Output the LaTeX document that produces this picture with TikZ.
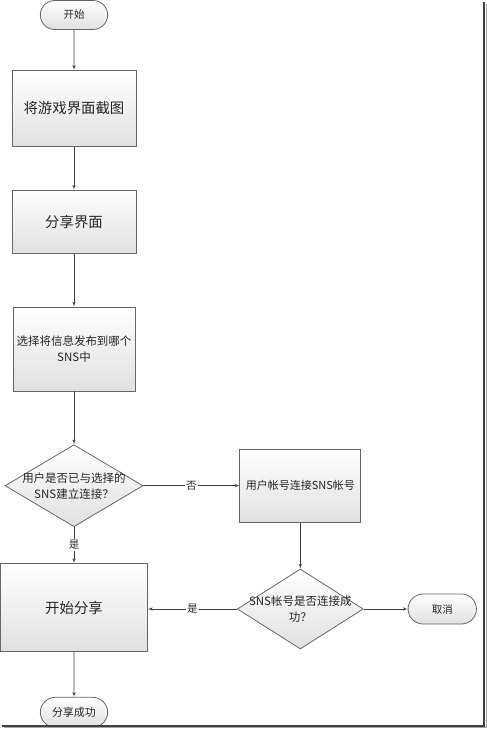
\documentclass[tikz,border=0pt]{standalone}
\usepackage{fontspec}
\setmainfont{Noto Sans CJK SC}
\usetikzlibrary{arrows,shapes,positioning}

\begin{document}
\begin{tikzpicture}[x=1pt,y=-1pt,->,>=latex',semithick,draw=black!75,
                    base/.style={draw=black!60,line width=0.8pt,top color=white,
                                 bottom color=black!12,align=center,text=black!85},
                    box/.style={base,rectangle,font=\fontsize{14.4}{18}\selectfont},
                    term/.style={base,rounded rectangle,minimum height=29pt,
                                 font=\fontsize{10.5}{13}\selectfont},
                    choice/.style={base,diamond},
                    lbl/.style={fill=white,inner sep=1pt,text=black!85,
                                font=\fontsize{10.5}{13}\selectfont},
                    every label/.style={align=center,text=black!85,
                                font=\fontsize{11.5}{16}\selectfont}]

  \useasboundingbox (0,0) rectangle (487,729);

  \node[term,minimum width=74pt]  (start) at (74,15)             {开始};
  \node[box,minimum width=124pt,minimum height=76pt]  (shot)  [below=40pt of start] {将游戏界面截图};
  \node[box,minimum width=124pt,minimum height=63pt]  (share) [below=43pt of shot]  {分享界面};
  \node[box,minimum width=122pt,minimum height=84pt,
        font=\fontsize{11.5}{16}\selectfont]         (pick)  [below=53pt of share] {选择将信息发布到哪个\\SNS中};
  \node[choice,minimum width=138pt,minimum height=82pt,
        label=center:用户是否已与选择的\\SNS建立连接？]   (ask)   [below=53pt of pick]  {};
  \node[box,minimum width=147pt,minimum height=88pt]  (go)    [below=36pt of ask]   {开始分享};
  \node[term,minimum width=74pt,minimum height=30pt,
        font=\fontsize{11}{13}\selectfont]           (done)  [below=45pt of go]    {分享成功};
  \node[box,minimum width=121pt,minimum height=73pt,
        font=\fontsize{11}{14}\selectfont]           (link)  [right=96pt of ask]   {用户帐号连接SNS帐号};
  \node[choice,minimum width=126pt,minimum height=80pt,
        label=center:SNS帐号是否连接成\\功？]           (ok)    [below=46pt of link]  {};
  \node[term,minimum width=75pt,minimum height=30pt] (cancel) [right=44pt of ok]   {取消};

  \path (start) edge                   (shot)
        (shot)  edge                   (share)
        (share) edge                   (pick)
        (pick)  edge                   (ask)
        (ask)   edge node[lbl] {否}    (link)
        (ask)   edge node[lbl] {是}    (go)
        (link)  edge                   (ok)
        (ok.west) edge node[lbl] {是}  (ok.west -| go.east)
        (ok)    edge                   (cancel)
        (go)    edge                   (done);

  % page shadow
  \draw[-,line width=2pt,black!75] (484,2) -- (484,725.5) -- (2,725.5);
  \draw[-,line width=1pt,black!35] (486,4) -- (486,727.5) -- (4,727.5);
\end{tikzpicture}
\end{document}
